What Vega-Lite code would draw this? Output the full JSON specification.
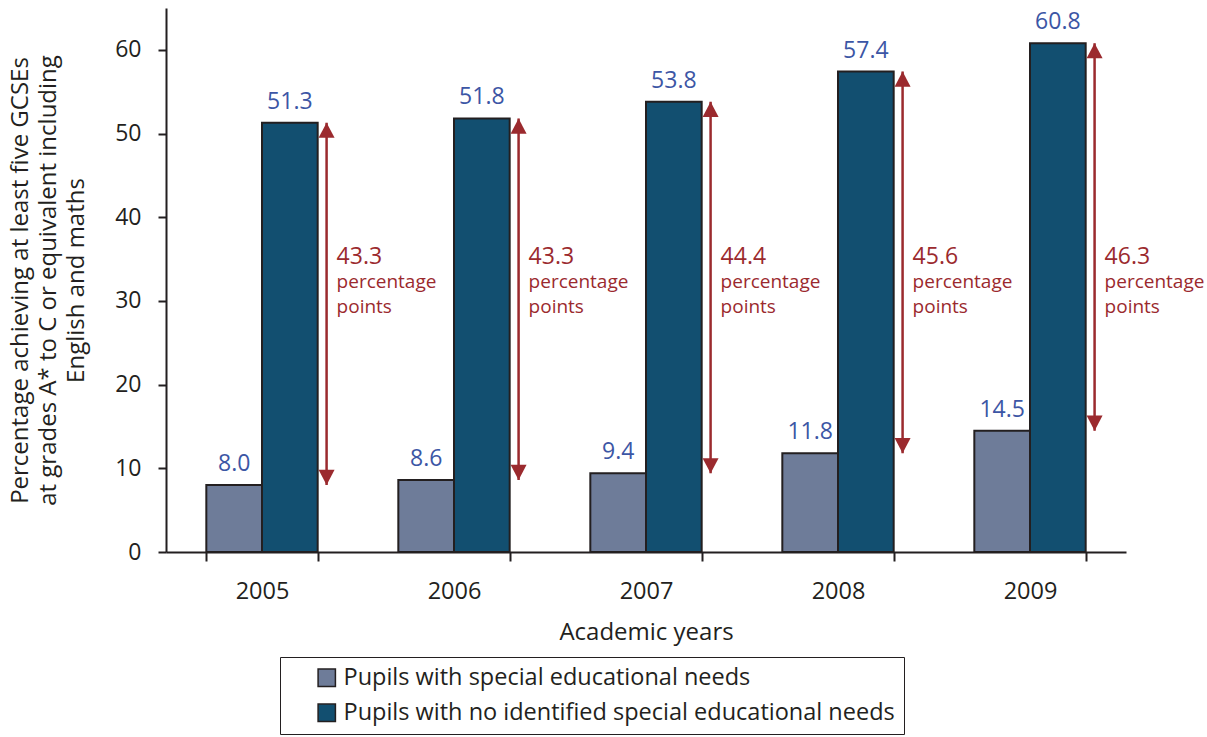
{
  "$schema": "https://vega.github.io/schema/vega-lite/v6.json",
  "width": 960,
  "height": 544,
  "autosize": {"type": "none"},
  "padding": {"left": 166, "top": 8, "right": 81, "bottom": 185},
  "background": "white",
  "config": {
    "font": "Open Sans",
    "view": {"stroke": null},
    "axis": {"labelFont": "Open Sans", "titleFont": "Open Sans", "labelColor": "#231f20", "titleColor": "#231f20", "titleFontWeight": "normal", "grid": false},
    "legend": {"labelFont": "Open Sans", "strokeColor": "#231f20", "fillColor": "white"}
  },
  "datasets": {
    "bars": [
      {"year": "2005", "group": "Pupils with special educational needs", "value": 8.0},
      {"year": "2005", "group": "Pupils with no identified special educational needs", "value": 51.3},
      {"year": "2006", "group": "Pupils with special educational needs", "value": 8.6},
      {"year": "2006", "group": "Pupils with no identified special educational needs", "value": 51.8},
      {"year": "2007", "group": "Pupils with special educational needs", "value": 9.4},
      {"year": "2007", "group": "Pupils with no identified special educational needs", "value": 53.8},
      {"year": "2008", "group": "Pupils with special educational needs", "value": 11.8},
      {"year": "2008", "group": "Pupils with no identified special educational needs", "value": 57.4},
      {"year": "2009", "group": "Pupils with special educational needs", "value": 14.5},
      {"year": "2009", "group": "Pupils with no identified special educational needs", "value": 60.8}
    ],
    "gaps": [
      {"year": "2005", "low": 8.0, "high": 51.3, "gap": "43.3"},
      {"year": "2006", "low": 8.6, "high": 51.8, "gap": "43.3"},
      {"year": "2007", "low": 9.4, "high": 53.8, "gap": "44.4"},
      {"year": "2008", "low": 11.8, "high": 57.4, "gap": "45.6"},
      {"year": "2009", "low": 14.5, "high": 60.8, "gap": "46.3"}
    ]
  },
  "layer": [
    {
      "data": {"name": "bars"},
      "mark": {"type": "bar", "stroke": "#231f20", "strokeWidth": 2},
      "encoding": {
        "x": {
          "field": "year", "type": "nominal",
          "scale": {"paddingInner": 0.42, "paddingOuter": 0.21},
          "axis": {
            "title": "Academic years", "titleFontSize": 24, "titlePadding": 18,
            "labelAngle": 0, "labelFontSize": 23.5, "labelPadding": 18,
            "domainColor": "#231f20", "domainWidth": 2,
            "tickBand": "extent", "tickColor": "#231f20", "tickWidth": 2, "tickSize": 9
          }
        },
        "xOffset": {
          "field": "group", "type": "nominal",
          "sort": ["Pupils with special educational needs", "Pupils with no identified special educational needs"],
          "scale": {"paddingInner": 0, "paddingOuter": 0}
        },
        "y": {
          "field": "value", "type": "quantitative",
          "scale": {"domain": [0, 65], "nice": false},
          "axis": {
            "values": [0, 10, 20, 30, 40, 50, 60],
            "title": ["Percentage achieving at least five GCSEs", "at grades A* to C or equivalent including", "English and maths"],
            "titleFontSize": 24, "titleLineHeight": 28, "titlePadding": 26,
            "labelFontSize": 23, "labelPadding": 17,
            "domainColor": "#231f20", "domainWidth": 2,
            "tickColor": "#231f20", "tickWidth": 2, "tickSize": 8
          }
        },
        "color": {
          "field": "group", "type": "nominal",
          "scale": {
            "domain": ["Pupils with special educational needs", "Pupils with no identified special educational needs"],
            "range": ["#6e7c99", "#124f70"]
          },
          "legend": {
            "title": null, "orient": "none", "legendX": 114, "legendY": 649, "direction": "vertical",
            "symbolType": "square", "symbolSize": 300, "symbolStrokeColor": "#231f20", "symbolStrokeWidth": 1.5,
            "symbolOpacity": 1, "symbolOffset": 26,
            "labelFontSize": 23.5, "labelColor": "#231f20", "labelLimit": 800, "labelOffset": 5,
            "rowPadding": 10, "padding": 9
          }
        }
      }
    },
    {
      "data": {"name": "bars"},
      "mark": {"type": "text", "baseline": "bottom", "dy": -9, "fontSize": 23, "color": "#3c56a5"},
      "encoding": {
        "x": {"field": "year", "type": "nominal"},
        "xOffset": {"field": "group", "type": "nominal", "sort": ["Pupils with special educational needs", "Pupils with no identified special educational needs"]},
        "y": {"field": "value", "type": "quantitative"},
        "text": {"field": "value", "type": "quantitative", "format": ".1f"}
      }
    },
    {
      "data": {"name": "gaps"},
      "mark": {"type": "rule", "color": "#9b2a2e", "strokeWidth": 2.5},
      "encoding": {
        "x": {"field": "year", "type": "nominal", "bandPosition": 1.08},
        "y": {"field": "low", "type": "quantitative"},
        "y2": {"field": "high"}
      }
    },
    {
      "data": {"name": "gaps"},
      "mark": {"type": "point", "filled": true, "opacity": 1, "shape": "M0,0L-1,1.9L1,1.9Z", "size": 256, "color": "#9b2a2e"},
      "encoding": {
        "x": {"field": "year", "type": "nominal", "bandPosition": 1.08},
        "y": {"field": "high", "type": "quantitative"}
      }
    },
    {
      "data": {"name": "gaps"},
      "mark": {"type": "point", "filled": true, "opacity": 1, "shape": "M0,0L-1,-1.9L1,-1.9Z", "size": 256, "color": "#9b2a2e"},
      "encoding": {
        "x": {"field": "year", "type": "nominal", "bandPosition": 1.08},
        "y": {"field": "low", "type": "quantitative"}
      }
    },
    {
      "data": {"name": "gaps"},
      "mark": {"type": "text", "align": "left", "baseline": "middle", "dx": 10, "fontSize": 23, "color": "#9b2a2e"},
      "encoding": {
        "x": {"field": "year", "type": "nominal", "bandPosition": 1.08},
        "y": {"datum": 35.3},
        "text": {"field": "gap"}
      }
    },
    {
      "data": {"name": "gaps"},
      "mark": {"type": "text", "align": "left", "baseline": "alphabetic", "dx": 10, "fontSize": 19, "lineHeight": 25, "color": "#9b2a2e"},
      "encoding": {
        "x": {"field": "year", "type": "nominal", "bandPosition": 1.08},
        "y": {"datum": 31.6},
        "text": {"value": ["percentage", "points"]}
      }
    }
  ]
}
